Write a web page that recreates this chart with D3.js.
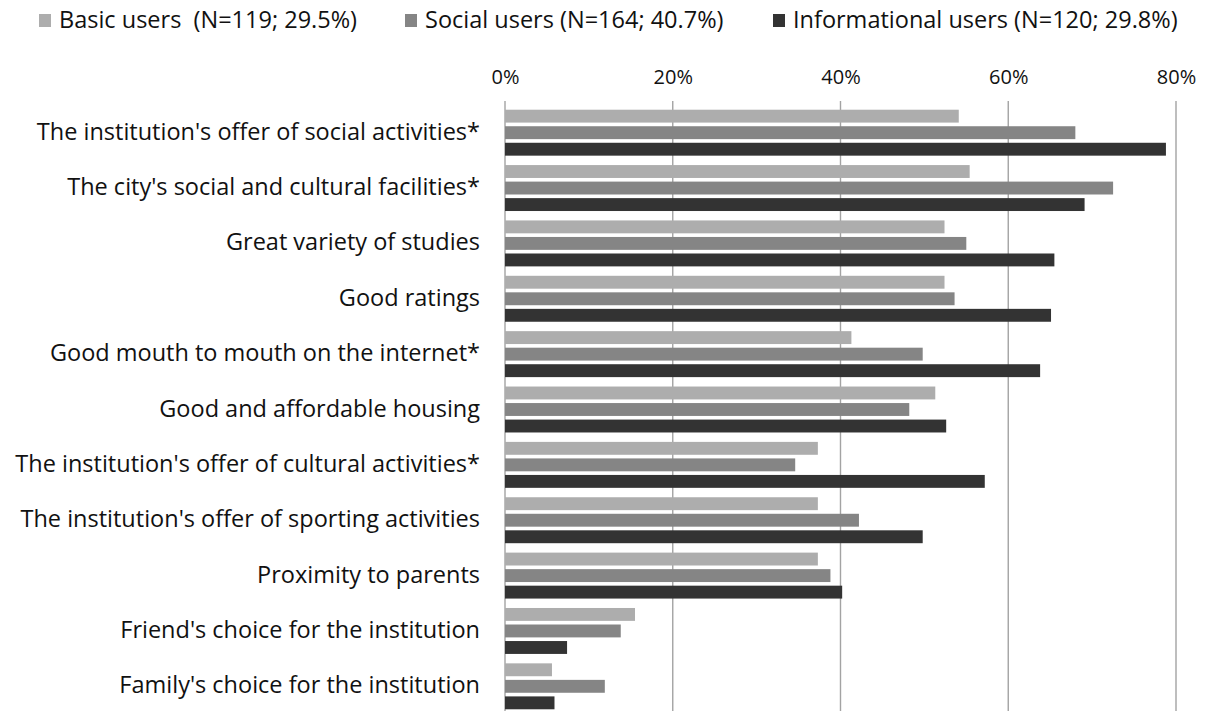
<!DOCTYPE html>
<html>
<head>
<meta charset="utf-8">
<script src="https://cdn.jsdelivr.net/npm/d3@7"></script>
<style>
  html, body { margin: 0; padding: 0; background: #fff; }
  svg { display: block; }
  text { font-family: "Open Sans", "Liberation Sans", Arial, sans-serif; fill: #111; }
</style>
</head>
<body>
<svg id="chart" width="1212" height="711"></svg>
<script>
// Reasons for choosing the institution, by user group (% of respondents)
const categories = [
  "The institution's offer of social activities*",
  "The city's social and cultural facilities*",
  "Great variety of studies",
  "Good ratings",
  "Good mouth to mouth on the internet*",
  "Good and affordable housing",
  "The institution's offer of cultural activities*",
  "The institution's offer of sporting activities",
  "Proximity to parents",
  "Friend's choice for the institution",
  "Family's choice for the institution"
];
const seriesNames = [
  "Basic users  (N=119; 29.5%)",
  "Social users (N=164; 40.7%)",
  "Informational users (N=120; 29.8%)"
];
const basicUsers = [54.1, 55.4, 52.4, 52.4, 41.3, 51.3, 37.3, 37.3, 37.3, 15.5, 5.6];
const socialUsers = [68.0, 72.5, 55.0, 53.6, 49.8, 48.2, 34.6, 42.2, 38.8, 13.8, 11.9];
const informationalUsers = [78.8, 69.1, 65.5, 65.1, 63.8, 52.6, 57.2, 49.8, 40.2, 7.4, 5.9];
const tickValues = [0, 20, 40, 60, 80];
const seriesColors = ["#adadad", "#858585", "#333333"];

const seriesValues = [basicUsers, socialUsers, informationalUsers];
const rows = categories.map((c, i) => ({
  category: c,
  values: seriesValues.map((vals, s) => ({ s, v: vals[i] }))
}));

const svg = d3.select("#chart");
const plotLeft = 505, plotRight = 1176, plotTop = 105, plotBottom = 714;

const x = d3.scaleLinear().domain([0, 80]).range([plotLeft, plotRight]);
const y = d3.scaleBand().domain(categories).range([plotTop, plotBottom])
  .paddingInner(0.17).paddingOuter(0.085);
const ySub = d3.scaleBand().domain([0, 1, 2]).range([0, y.bandwidth()])
  .paddingInner(0.22);

// vertical gridlines
svg.append("g").selectAll("line").data(tickValues).join("line")
  .attr("x1", d => x(d)).attr("x2", d => x(d))
  .attr("y1", plotTop - 4).attr("y2", 711)
  .attr("stroke", "#a3a3a3").attr("stroke-width", 1.4);

// top axis labels
const axis = d3.axisTop(x).tickValues(tickValues).tickFormat(d => d + "%").tickSize(0).tickPadding(0);
const axisG = svg.append("g").attr("transform", "translate(0,84)").call(axis);
axisG.select(".domain").remove();
axisG.selectAll("text")
  .attr("dy", 0)
  .style("font-family", "\"Open Sans\", \"Liberation Sans\", Arial, sans-serif")
  .style("font-size", "20px").attr("fill", "#222");

// bars
const groups = svg.append("g").selectAll("g").data(rows).join("g")
  .attr("transform", d => `translate(0,${y(d.category)})`);
groups.selectAll("rect").data(d => d.values).join("rect")
  .attr("x", x(0))
  .attr("y", d => ySub(d.s))
  .attr("width", d => x(d.v) - x(0))
  .attr("height", ySub.bandwidth())
  .attr("fill", d => seriesColors[d.s]);

// category labels
svg.append("g").selectAll("text").data(categories).join("text")
  .attr("x", 480)
  .attr("y", d => y(d) + y.bandwidth() / 2 + 7)
  .attr("text-anchor", "end")
  .style("font-size", "23.5px")
  .text(d => d);

// legend
const legendX = [39, 405, 773];
const legend = svg.append("g").selectAll("g").data(seriesNames).join("g")
  .attr("transform", (d, i) => `translate(${legendX[i]},0)`);
legend.append("rect")
  .attr("x", 0).attr("y", 14).attr("width", 12).attr("height", 13)
  .attr("fill", (d, i) => seriesColors[i]);
legend.append("text")
  .attr("x", 20).attr("y", 28)
  .style("font-size", "23.5px")
  .style("white-space", "pre")
  .text(d => d);
</script>
</body>
</html>
